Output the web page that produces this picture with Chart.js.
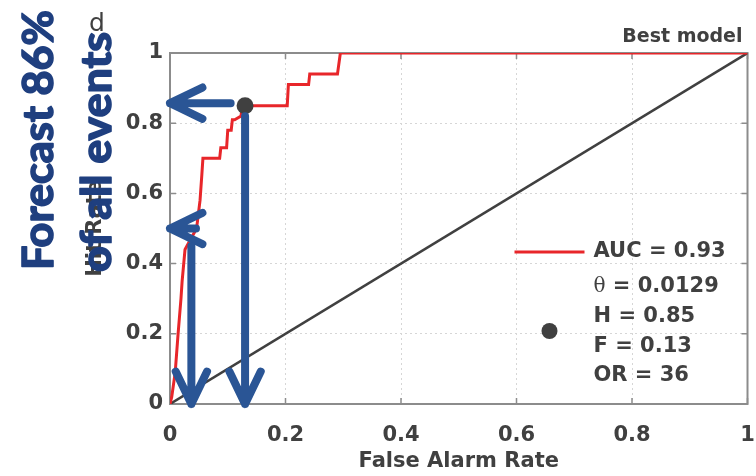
<!DOCTYPE html>
<html>
<head>
<meta charset="utf-8">
<script src="https://cdn.jsdelivr.net/npm/chart.js@4/dist/chart.umd.min.js"></script>
<style>
  html, body { margin: 0; padding: 0; background: #fff; }
  #wrap { width: 756px; height: 476px; }
</style>
</head>
<body>
<div id="wrap"><canvas id="roc" width="756" height="476"></canvas></div>
<script>
// ROC curve
var falseAlarm = [0, 0.003, 0.009, 0.014, 0.019, 0.021, 0.026, 0.036, 0.046, 0.049,
  0.052, 0.055, 0.057, 0.086, 0.088, 0.098, 0.100, 0.106, 0.108, 0.112,
  0.123, 0.125, 0.203, 0.205, 0.240, 0.242, 0.290, 0.295, 1];
var hitRate = [0, 0.02, 0.09, 0.20, 0.30, 0.35, 0.44, 0.47, 0.50, 0.54,
  0.58, 0.65, 0.70, 0.70, 0.73, 0.73, 0.78, 0.78, 0.81, 0.81,
  0.82, 0.85, 0.85, 0.91, 0.91, 0.94, 0.94, 1.0, 1.0];

// no-skill diagonal
var diagX = [0, 1];
var diagY = [0, 1];

// chosen threshold
var bestF = [0.13];
var bestH = [0.85];

var tickValues = [0, 0.2, 0.4, 0.6, 0.8, 1];
var legendLines = ['AUC = 0.93', '\u03b8 = 0.0129', 'H = 0.85', 'F = 0.13', 'OR = 36'];
var noteLines = ['Forecast 86%', 'of all events'];

// annotation arrows, in data units (from -> to)
var arrowFrom = [[0.105, 0.857], [0.045, 0.5], [0.037, 0.45], [0.13, 0.82]];
var arrowTo = [[0, 0.857], [0, 0.5], [0.037, 0], [0.13, 0]];

(function () {
  var GREY = '#404040';
  var FRAME = '#8c8c8c';
  var BLUE = '#2a5595';
  var NAVY = '#1f3f7f';
  var labelFont = { family: 'DejaVu Sans', weight: 'bold', size: 21 };

  function pts(xs, ys) {
    return xs.map(function (x, i) { return { x: x, y: ys[i] }; });
  }

  function setTicks(scale) {
    scale.ticks = tickValues.map(function (v) { return { value: v }; });
  }

  function tickText(v) {
    return String(Math.round(v * 10) / 10);
  }

  var framePlugin = {
    id: 'frame',
    beforeDatasetsDraw: function (chart) {
      var ctx = chart.ctx, a = chart.chartArea;
      var xs = chart.scales.x, ys = chart.scales.y;
      ctx.save();
      ctx.strokeStyle = FRAME;
      ctx.lineWidth = 1.5;
      // inner tick marks on all four sides
      tickValues.forEach(function (v) {
        var px = xs.getPixelForValue(v), py = ys.getPixelForValue(v);
        ctx.beginPath();
        ctx.moveTo(px, a.bottom); ctx.lineTo(px, a.bottom - 6);
        ctx.moveTo(px, a.top); ctx.lineTo(px, a.top + 6);
        ctx.moveTo(a.left, py); ctx.lineTo(a.left + 6, py);
        ctx.moveTo(a.right, py); ctx.lineTo(a.right - 6, py);
        ctx.stroke();
      });
      ctx.lineWidth = 2;
      ctx.strokeRect(a.left, a.top, a.right - a.left, a.bottom - a.top);
      ctx.restore();
    }
  };

  function drawArrow(ctx, x1, y1, x2, y2) {
    var ang = Math.atan2(y2 - y1, x2 - x1);
    var len = 36, half = 0.45;
    ctx.beginPath();
    ctx.moveTo(x1, y1);
    ctx.lineTo(x2, y2);
    ctx.moveTo(x2 - len * Math.cos(ang - half), y2 - len * Math.sin(ang - half));
    ctx.lineTo(x2, y2);
    ctx.lineTo(x2 - len * Math.cos(ang + half), y2 - len * Math.sin(ang + half));
    ctx.stroke();
  }

  var arrowPlugin = {
    id: 'arrows',
    afterDatasetsDraw: function (chart) {
      var ctx = chart.ctx;
      var xs = chart.scales.x, ys = chart.scales.y;
      ctx.save();
      ctx.strokeStyle = BLUE;
      ctx.lineWidth = 8;
      ctx.lineCap = 'round';
      ctx.lineJoin = 'round';
      arrowFrom.forEach(function (f, i) {
        var t = arrowTo[i];
        drawArrow(ctx,
          xs.getPixelForValue(f[0]), ys.getPixelForValue(f[1]),
          xs.getPixelForValue(t[0]), ys.getPixelForValue(t[1]));
      });
      ctx.restore();
    }
  };

  function drawNote(ctx, text, baseX, startY, length, size) {
    ctx.save();
    ctx.font = 'bold ' + size + 'px Lato';
    var w = ctx.measureText(text).width;
    ctx.translate(baseX, startY);
    ctx.rotate(-Math.PI / 2);
    ctx.scale(length / w, 1);
    ctx.fillStyle = NAVY;
    ctx.strokeStyle = NAVY;
    ctx.lineWidth = 1.6;
    ctx.lineJoin = 'round';
    ctx.textAlign = 'left';
    ctx.textBaseline = 'alphabetic';
    ctx.fillText(text, 0, 0);
    ctx.strokeText(text, 0, 0);
    ctx.restore();
  }

  var textPlugin = {
    id: 'texts',
    afterDraw: function (chart) {
      var ctx = chart.ctx, a = chart.chartArea;
      ctx.save();
      ctx.fillStyle = GREY;

      // panel letter
      ctx.font = '25px "DejaVu Sans"';
      ctx.textAlign = 'center';
      ctx.textBaseline = 'middle';
      ctx.fillText('d', 97, 24);

      ctx.font = 'bold 19px "DejaVu Sans"';
      ctx.textAlign = 'right';
      ctx.textBaseline = 'bottom';
      ctx.fillText('Best model', a.right - 5, a.top - 6);

      // legend box
      var lx = a.right - 233;
      var ly = a.top + 199;
      ctx.strokeStyle = '#e8262a';
      ctx.lineWidth = 3;
      ctx.beginPath();
      ctx.moveTo(lx, ly);
      ctx.lineTo(lx + 70, ly);
      ctx.stroke();
      ctx.beginPath();
      ctx.arc(lx + 35, ly + 79, 8, 0, Math.PI * 2);
      ctx.fill();

      ctx.textAlign = 'left';
      ctx.textBaseline = 'middle';
      var rows = [0, 35, 65, 95, 124];
      legendLines.forEach(function (t, i) {
        var x = lx + 79;
        // theta is set in a plain serif face in the original
        if (t.charAt(0) === '\u03b8') {
          ctx.font = '20px "DejaVu Serif"';
          ctx.fillText(t.charAt(0), x, ly + rows[i]);
          x += ctx.measureText(t.charAt(0)).width;
          t = t.slice(1);
        }
        ctx.font = 'bold 21px "DejaVu Sans"';
        ctx.fillText(t, x, ly + rows[i]);
      });
      ctx.restore();

      drawNote(ctx, noteLines[0], 53, 270, 260, 42);
      drawNote(ctx, noteLines[1], 111, 272, 240, 42);
    }
  };

  new Chart(document.getElementById('roc'), {
    type: 'line',
    data: {
      datasets: [{
        data: pts(bestF, bestH),
        showLine: false,
        pointRadius: 8.5,
        pointBackgroundColor: GREY,
        pointBorderWidth: 0,
        order: 0
      }, {
        data: pts(falseAlarm, hitRate),
        borderColor: '#e8262a',
        borderWidth: 3,
        pointRadius: 0,
        tension: 0,
        order: 1
      }, {
        data: pts(diagX, diagY),
        borderColor: GREY,
        borderWidth: 2.5,
        pointRadius: 0,
        order: 2
      }]
    },
    options: {
      responsive: false,
      animation: false,
      layout: { padding: { left: 0, top: 53, right: 5, bottom: 0 } },
      plugins: { legend: { display: false }, tooltip: { enabled: false } },
      scales: {
        x: {
          type: 'linear', min: 0, max: 1,
          afterBuildTicks: setTicks,
          afterFit: function (s) { s.height = 72; s.paddingLeft = 0; s.paddingRight = 0; },
          grid: { color: '#d6d6d6', drawTicks: false, lineWidth: 1 },
          border: { display: false, dash: [2, 3] },
          ticks: { padding: 19, color: GREY, font: labelFont, maxRotation: 0, callback: tickText },
          title: { display: true, text: 'False Alarm Rate', color: GREY, font: labelFont, padding: { top: 0, bottom: 2 } }
        },
        y: {
          type: 'linear', min: 0, max: 1,
          afterBuildTicks: setTicks,
          afterFit: function (s) { s.width = 170; },
          grid: { color: '#d6d6d6', drawTicks: false, lineWidth: 1 },
          border: { display: false, dash: [2, 3] },
          ticks: { padding: 7, color: GREY, font: labelFont, callback: tickText },
          title: { display: true, text: 'Hit Rate', color: GREY, font: labelFont, padding: { top: 83, bottom: 0 } }
        }
      }
    },
    plugins: [framePlugin, arrowPlugin, textPlugin]
  });
})();
</script>
</body>
</html>
